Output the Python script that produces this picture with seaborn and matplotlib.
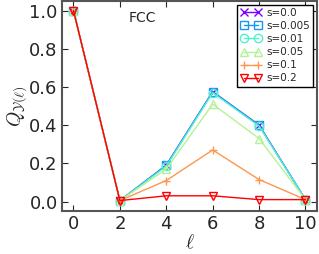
import numpy as np
import pandas as pd
import matplotlib
matplotlib.use('Agg')
import matplotlib.pyplot as plt
import seaborn as sns

# l values and Q for each smearing s
ell = [0, 2, 4, 6, 8, 10]
s_labels = ['s=0.0', 's=0.005', 's=0.01', 's=0.05', 's=0.1', 's=0.2']
q_s0 = [1.0, 0.005, 0.19, 0.575, 0.40, 0.01]
q_s005 = [1.0, 0.005, 0.19, 0.575, 0.40, 0.01]
q_s01 = [1.0, 0.005, 0.185, 0.57, 0.395, 0.01]
q_s05 = [1.0, 0.005, 0.17, 0.51, 0.33, 0.01]
q_s1 = [1.0, 0.005, 0.11, 0.27, 0.115, 0.01]
q_s2 = [1.0, 0.005, 0.03, 0.03, 0.01, 0.01]
markers = ['x', 's', 'o', '^', '+', 'v']

series = [q_s0, q_s005, q_s01, q_s05, q_s1, q_s2]
df = pd.DataFrame({
    'ell': ell * len(series),
    'Q': sum(series, []),
    's': [lab for lab in s_labels for _ in ell],
})

sns.set_style('ticks')
plt.rcParams['xtick.direction'] = 'in'
plt.rcParams['ytick.direction'] = 'in'
plt.rcParams['xtick.top'] = True
plt.rcParams['ytick.right'] = True
plt.rcParams['mathtext.fontset'] = 'cm'

colors = plt.cm.rainbow(np.linspace(0, 1, len(s_labels)))

fig, ax = plt.subplots(figsize=(3.19, 2.54), dpi=100)
for i, lab in enumerate(s_labels):
    sub = df[df['s'] == lab]
    sns.lineplot(data=sub, x='ell', y='Q', ax=ax, color=colors[i], label=lab,
                 marker=markers[i], markersize=6, markerfacecolor='none',
                 markeredgecolor=colors[i], markeredgewidth=1, linewidth=1)

ax.set_xlim(-0.5, 10.5)
ax.set_ylim(-0.05, 1.05)
ax.set_xticks([0, 2, 4, 6, 8, 10])
ax.set_yticks([0.0, 0.2, 0.4, 0.6, 0.8, 1.0])
ax.tick_params(labelsize=13, length=4, width=0.8, pad=3)
ax.set_xlabel(r'$\ell$', fontsize=14, labelpad=0)
ax.set_ylabel(r'$Q_{\mathcal{Y}(\ell)}$', fontsize=14, labelpad=0)
ax.text(2.96, 0.963, 'FCC', fontsize=10, ha='center', va='center')
for sp in ax.spines.values():
    sp.set_color('#555555')
    sp.set_linewidth(1.5)

leg = ax.legend(loc='upper right', fontsize=7.5, numpoints=2, handlelength=2.0,
                labelspacing=0.3, borderpad=0.3, handletextpad=0.5,
                fancybox=False, framealpha=1, borderaxespad=0.35)
leg.get_frame().set_edgecolor('black')
for h in leg.legend_handles:
    h.set_markerfacecolor('none')
    h.set_markersize(6)

fig.subplots_adjust(left=0.194, right=0.994, top=0.996, bottom=0.169)
fig.savefig('out.png', dpi=100)
